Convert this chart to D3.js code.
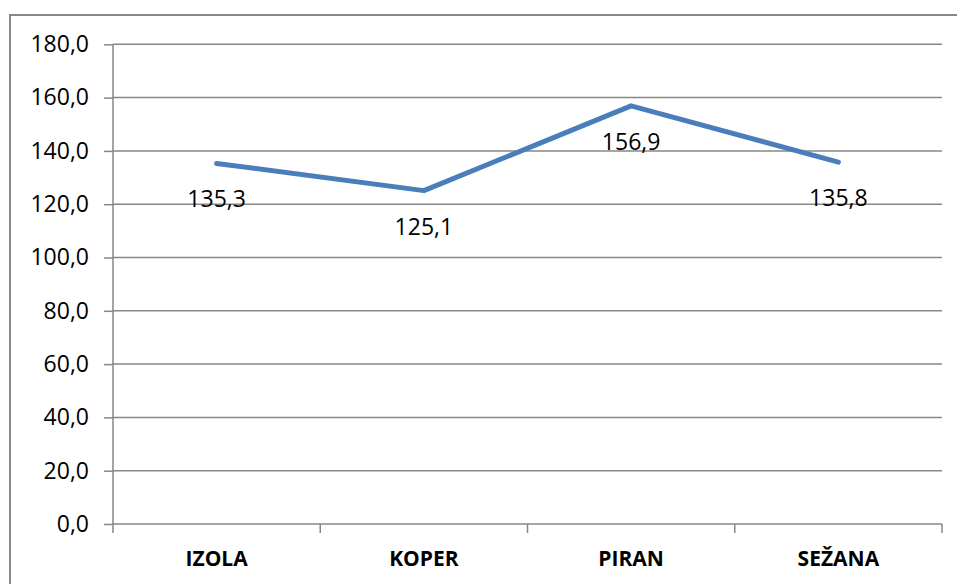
<!DOCTYPE html>
<html>
<head>
<meta charset="utf-8">
<script src="https://cdn.jsdelivr.net/npm/d3@7"></script>
<style>
  html, body { margin: 0; padding: 0; background: #fff; }
  svg { display: block; }
  text { font-family: "Open Sans", "Liberation Sans", sans-serif; fill: #000; }
</style>
</head>
<body>
<svg id="chart" width="957" height="584"></svg>
<script>
// Chart data
const categories = ["IZOLA", "KOPER", "PIRAN", "SEŽANA"];
const values = [135.3, 125.1, 156.9, 135.8];
const yTicks = [0, 20, 40, 60, 80, 100, 120, 140, 160, 180];

const svg = d3.select("#chart");
const plot = { left: 113, right: 942, top: 44.3, bottom: 524 };
const gridColor = "#878787";
const fmt = v => v.toFixed(1).replace(".", ",");

// Outer frame of the chart area
svg.append("rect")
  .attr("x", 10).attr("y", 15)
  .attr("width", 1000).attr("height", 700)
  .attr("fill", "none")
  .attr("stroke", gridColor).attr("stroke-width", 2);

const x = d3.scaleBand().domain(categories).range([plot.left, plot.right]).padding(0);
const y = d3.scaleLinear().domain([0, 180]).range([plot.bottom, plot.top]);

// Horizontal gridlines
svg.append("g").selectAll("line")
  .data(yTicks.filter(t => t > 0))
  .join("line")
  .attr("x1", plot.left).attr("x2", plot.right)
  .attr("y1", d => y(d)).attr("y2", d => y(d))
  .attr("stroke", gridColor).attr("stroke-width", 1.5);

// Y axis
const yAxis = svg.append("g")
  .attr("transform", `translate(${plot.left},0)`)
  .call(d3.axisLeft(y).tickValues(yTicks).tickFormat(fmt).tickSize(9).tickPadding(15));
yAxis.select(".domain").attr("stroke", gridColor).attr("stroke-width", 1.5)
  .attr("d", `M0,${plot.top}V${plot.bottom}`);
yAxis.selectAll(".tick line").attr("stroke", gridColor).attr("stroke-width", 1.5);
yAxis.selectAll(".tick text")
  .style("font-family", "'Open Sans', sans-serif")
  .style("font-size", "23px").attr("fill", "#000");

// X axis with ticks at category boundaries
const xAxis = svg.append("g")
  .attr("transform", `translate(0,${plot.bottom})`);
xAxis.append("line")
  .attr("x1", plot.left).attr("x2", plot.right)
  .attr("stroke", gridColor).attr("stroke-width", 1.5);
const bounds = categories.map(c => x(c)).concat([x(categories[categories.length - 1]) + x.bandwidth()]);
xAxis.selectAll("line.tk")
  .data(bounds)
  .join("line").attr("class", "tk")
  .attr("x1", d => d).attr("x2", d => d)
  .attr("y1", 0).attr("y2", 9)
  .attr("stroke", gridColor).attr("stroke-width", 1.5);
xAxis.selectAll("text")
  .data(categories)
  .join("text")
  .attr("x", d => x(d) + x.bandwidth() / 2)
  .attr("y", 35)
  .attr("dy", "0.35em")
  .attr("text-anchor", "middle")
  .style("font-size", "21px")
  .style("font-weight", "bold")
  .text(d => d);

// Data line
const cx = d => x(d) + x.bandwidth() / 2;
const line = d3.line()
  .x((d, i) => cx(categories[i]))
  .y(d => y(d));
svg.append("path")
  .datum(values)
  .attr("d", line)
  .attr("fill", "none")
  .attr("stroke", "#4a7ebb")
  .attr("stroke-width", 5)
  .attr("stroke-linecap", "round")
  .attr("stroke-linejoin", "round");

// Value labels below each point
svg.append("g").selectAll("text")
  .data(values)
  .join("text")
  .attr("x", (d, i) => cx(categories[i]))
  .attr("y", d => y(d) + 36)
  .attr("dy", "0.35em")
  .attr("text-anchor", "middle")
  .style("font-size", "23px")
  .text(fmt);
</script>
</body>
</html>
